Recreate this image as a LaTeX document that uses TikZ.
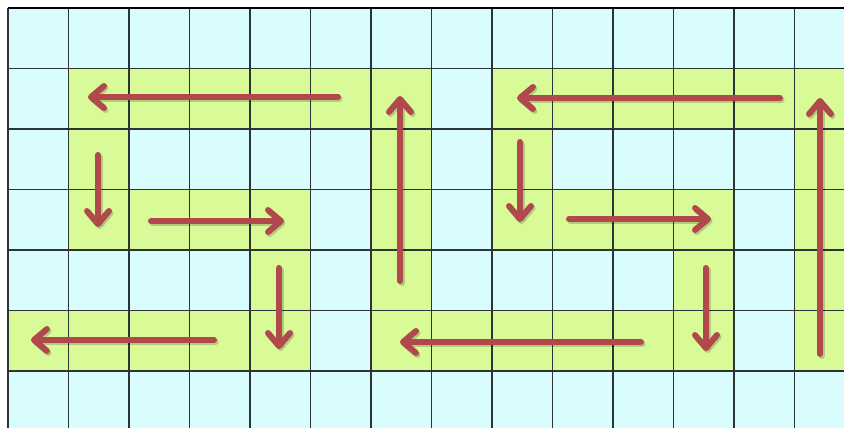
\documentclass[tikz,border=0pt]{standalone}
\usetikzlibrary{arrows.meta}
\definecolor{cellcyan}{HTML}{D9FDFF}
\definecolor{cellgreen}{HTML}{D8FA97}
\definecolor{gridline}{HTML}{2E3436}
\definecolor{arrowred}{HTML}{B0484C}
\tikzset{
  path arrow/.style={line width=6pt, draw=arrowred, line cap=round,
    -{Straight Barb[length=13pt,width=22pt,round]}},
  path shadow/.style={line width=6pt, draw=black, opacity=0.18, line cap=round,
    -{Straight Barb[length=13pt,width=22pt,round]}},
  gridrule/.style={draw=gridline, line width=1.1pt},
}
\newcommand{\cellsize}{60.5}
\begin{document}
\begin{tikzpicture}[x=1pt,y=-1pt]
  \useasboundingbox (0,0) rectangle (844,428);
  \clip (0,0) rectangle (844,428);
  % background cells
  \fill[cellcyan] (8,8) rectangle (844,428);
  % highlighted cells of the path: (column,row)
  \foreach \c/\r in {1/1,2/1,3/1,4/1,5/1,6/1,8/1,9/1,10/1,11/1,12/1,13/1,
                     1/2,6/2,8/2,13/2,
                     1/3,2/3,3/3,4/3,6/3,8/3,9/3,10/3,11/3,13/3,
                     4/4,6/4,11/4,13/4,
                     0/5,1/5,2/5,3/5,4/5,6/5,7/5,8/5,9/5,10/5,11/5,13/5}
    \fill[cellgreen] ({8+\c*\cellsize},{8+\r*\cellsize}) rectangle ++(\cellsize,\cellsize);
  % grid rules
  \foreach \k in {0,...,13}
    \draw[gridrule] ({8+\k*\cellsize},8) -- ({8+\k*\cellsize},428);
  \foreach \k in {1,...,6}
    \draw[gridrule] (8,{8+\k*\cellsize}) -- (844,{8+\k*\cellsize});
  \draw[draw=black, line width=2pt] (8,8) -- (844,8);
  % arrow end points
  \coordinate (a1s) at (338,97);  \coordinate (a1e) at (88,97);
  \coordinate (a2s) at (98,155);  \coordinate (a2e) at (98,227);
  \coordinate (a3s) at (151,221); \coordinate (a3e) at (284,221);
  \coordinate (a4s) at (279,268); \coordinate (a4e) at (279,349);
  \coordinate (a5s) at (214,340); \coordinate (a5e) at (31,340);
  \coordinate (a6s) at (400,281); \coordinate (a6e) at (400,96);
  \coordinate (a7s) at (641,342); \coordinate (a7e) at (400,342);
  \coordinate (a8s) at (706,268); \coordinate (a8e) at (706,351);
  \coordinate (a9s) at (820,354); \coordinate (a9e) at (820,98);
  \coordinate (a10s) at (780,98); \coordinate (a10e) at (517,98);
  \coordinate (a11s) at (520,142); \coordinate (a11e) at (520,222);
  \coordinate (a12s) at (569,219); \coordinate (a12e) at (711,219);
  % soft shadows, then the arrows
  \foreach \i in {1,...,12}
    \draw[path shadow, transform canvas={shift={(1.5pt,-2pt)}}] (a\i s) -- (a\i e);
  \foreach \i in {1,...,12}
    \draw[path arrow] (a\i s) -- (a\i e);
\end{tikzpicture}
\end{document}
